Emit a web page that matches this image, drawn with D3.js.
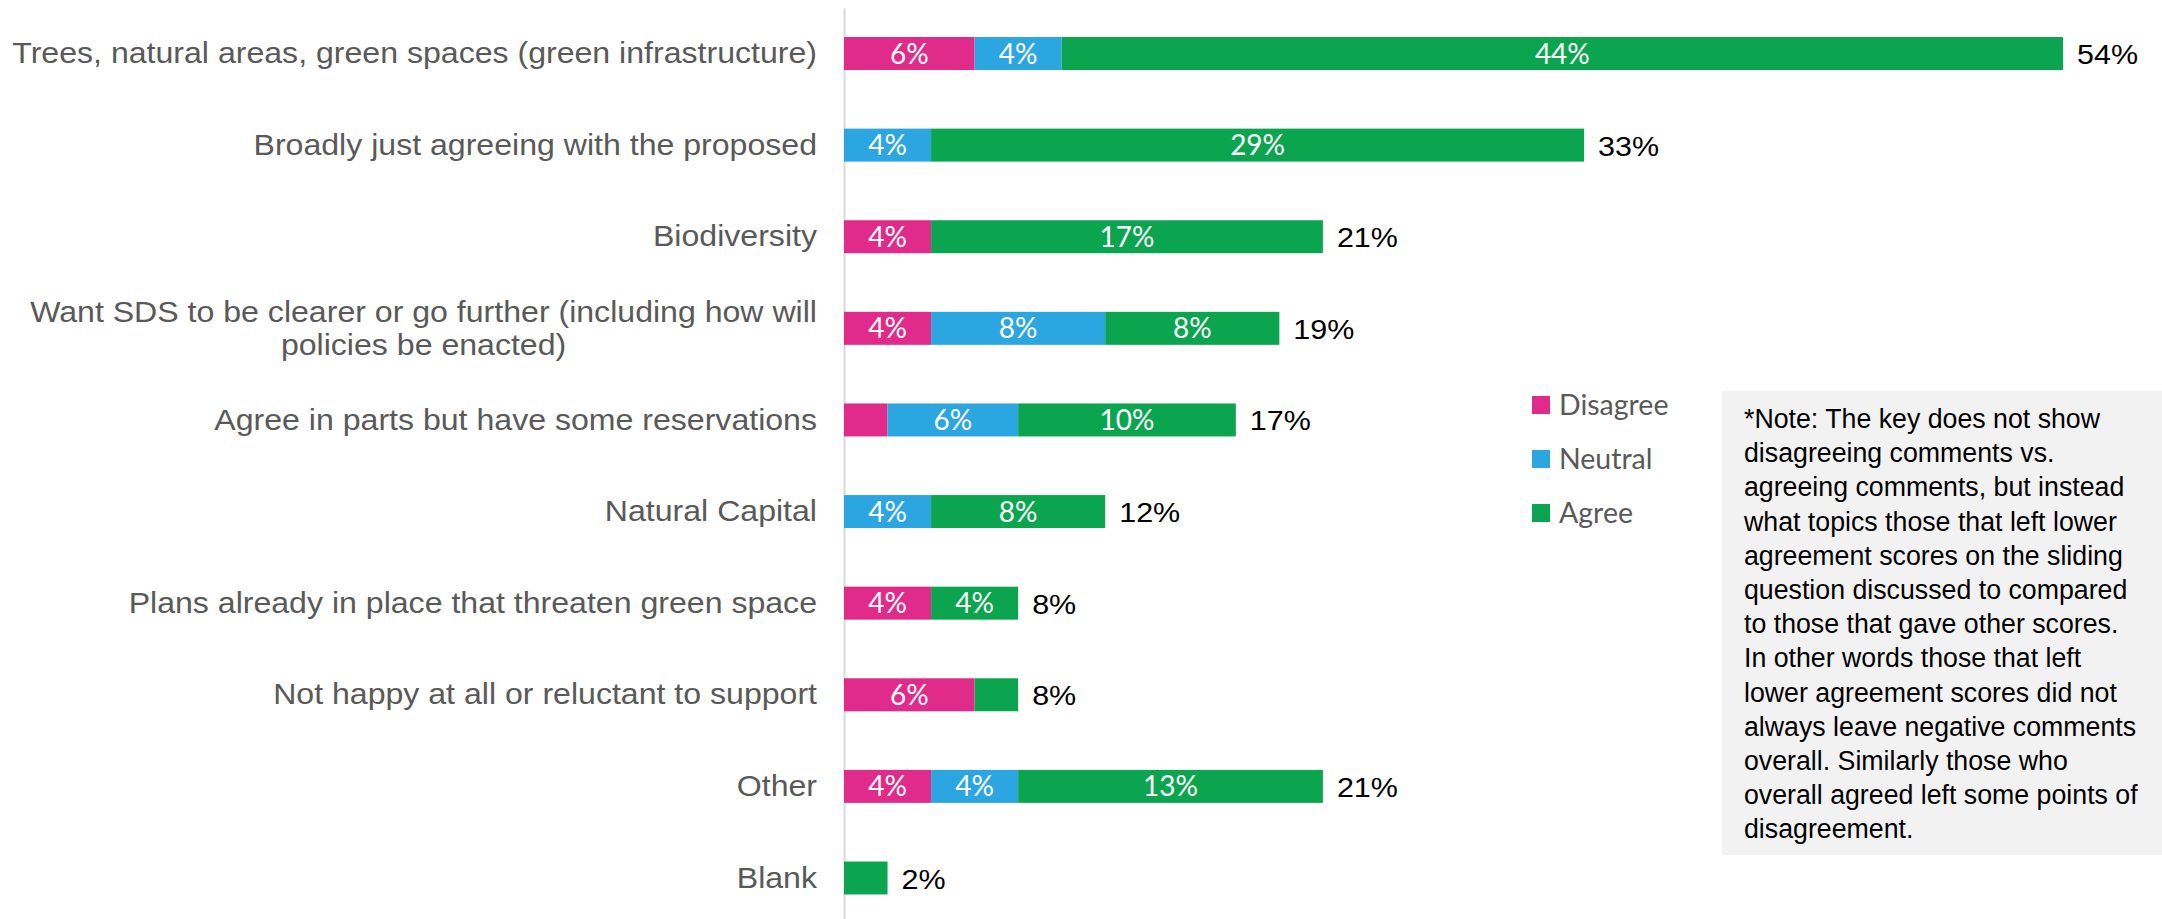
<!DOCTYPE html>
<html>
<head>
<meta charset="utf-8">
<script src="https://cdn.jsdelivr.net/npm/d3@7"></script>
<style>
  body { margin: 0; background: #fff; }
  svg { display: block; }
</style>
</head>
<body>
<div id="chart"></div>
<script>
// topics and the number of comments in each group (52 respondents)
const categories = [
  "Trees, natural areas, green spaces (green infrastructure)",
  "Broadly just agreeing with the proposed",
  "Biodiversity",
  "Want SDS to be clearer or go further (including how will policies be enacted)",
  "Agree in parts but have some reservations",
  "Natural Capital",
  "Plans already in place that threaten green space",
  "Not happy at all or reluctant to support",
  "Other",
  "Blank"
];
const disagree = [3, 0, 2, 2, 1, 0, 2, 3, 2, 0];
const neutral  = [2, 2, 0, 4, 3, 2, 0, 0, 2, 0];
const agree    = [23, 15, 9, 4, 5, 4, 2, 1, 7, 1];
const respondents = 52;

const seriesNames = ["Disagree", "Neutral", "Agree"];
const seriesColors = ["#E02B8A", "#2BA6E0", "#0BA550"];

const noteLines = [
  "*Note: The key does not show",
  "disagreeing comments vs.",
  "agreeing comments, but instead",
  "what topics those that left lower",
  "agreement scores on the sliding",
  "question discussed to compared",
  "to those that gave other scores.",
  "In other words those that left",
  "lower agreement scores did not",
  "always leave negative comments",
  "overall. Similarly those who",
  "overall agreed left some points of",
  "disagreement."
];

const width = 2162, height = 919;
const arial = "'Liberation Sans', Arial, sans-serif";
const stretch = 1.07; // chart text in the picture is a bit wide

const svg = d3.select("#chart").append("svg")
  .attr("width", width).attr("height", height);

const rows = categories.map((c, i) => ({
  cat: c, Disagree: disagree[i], Neutral: neutral[i], Agree: agree[i]
}));
const stacked = d3.stack().keys(seriesNames)(rows);

const x = d3.scaleLinear().domain([0, 28]).range([844, 2063]);
const y = d3.scaleBand().domain(categories).range([7.7, 923.8])
  .paddingInner(0.64).paddingOuter(0.32);
const color = d3.scaleOrdinal().domain(seriesNames).range(seriesColors);
const pct = v => Math.round(v / respondents * 100) + "%";

// category axis
const yAxis = svg.append("g")
  .attr("transform", `translate(${x(0)},0)`)
  .call(d3.axisLeft(y).tickSize(0).tickSizeOuter(0).tickPadding(27));
yAxis.select(".domain").attr("stroke", "#d9d9d9").attr("stroke-width", 2);
yAxis.selectAll(".tick text")
  .attr("fill", "#595959")
  .attr("x", 0)
  .attr("transform", `translate(-27,0) scale(${stretch},1)`)
  .style("font-family", arial)
  .style("font-size", "30px")
  .each(function(d) {
    const t = d3.select(this);
    const words = d.split(" ");
    t.text(null);
    let lines = [], line = [];
    const probe = t.append("tspan");
    words.forEach(w => {
      line.push(w);
      probe.text(line.join(" "));
      if (probe.node().getComputedTextLength() > 785 && line.length > 1) {
        line.pop();
        lines.push(line.join(" "));
        line = [w];
      }
    });
    lines.push(line.join(" "));
    probe.remove();
    if (lines.length === 1) {
      t.text(lines[0]);
      return;
    }
    // centred block, right edge against the padding
    const widths = lines.map(l => { t.text(l); return t.node().getComputedTextLength(); });
    t.text(null);
    const w = d3.max(widths);
    t.attr("text-anchor", "middle").attr("dy", null);
    lines.forEach((l, k) => {
      t.append("tspan")
        .attr("x", -w / 2)
        .attr("y", (k - (lines.length - 1) / 2) * 33)
        .attr("dy", "0.35em")
        .text(l);
    });
  });

// bars
const layer = svg.append("g").selectAll("g")
  .data(stacked).join("g")
  .attr("fill", d => color(d.key));

layer.selectAll("rect")
  .data(d => d)
  .join("rect")
  .attr("x", d => x(d[0]))
  .attr("y", d => y(d.data.cat))
  .attr("width", d => x(d[1]) - x(d[0]))
  .attr("height", y.bandwidth());

// segment labels (single comments are left unlabelled)
layer.selectAll("text")
  .data(d => d.filter(v => v[1] - v[0] >= 2))
  .join("text")
  .attr("x", d => (x(d[0]) + x(d[1])) / 2)
  .attr("y", d => y(d.data.cat) + y.bandwidth() / 2)
  .attr("dy", "0.36em")
  .attr("text-anchor", "middle")
  .attr("fill", "#fff")
  .style("font-family", "Lato, 'Open Sans', sans-serif")
  .style("font-size", "28px")
  .text(d => pct(d[1] - d[0]));

// totals
svg.append("g").selectAll("text")
  .data(rows).join("text")
  .attr("transform", d => `translate(${x(d.Disagree + d.Neutral + d.Agree) + 14},${y(d.cat) + y.bandwidth() / 2}) scale(${stretch},1)`)
  .attr("dy", "0.37em")
  .attr("fill", "#000")
  .style("font-family", arial)
  .style("font-size", "28.5px")
  .text(d => pct(d.Disagree + d.Neutral + d.Agree));

// legend
const legend = svg.append("g").attr("transform", "translate(1532,396)")
  .selectAll("g").data(seriesNames).join("g")
  .attr("transform", (d, i) => `translate(0,${i * 54})`);
legend.append("rect").attr("width", 18).attr("height", 18).attr("fill", d => color(d));
legend.append("text")
  .attr("x", 27).attr("y", 9).attr("dy", "0.36em")
  .attr("fill", "#595959")
  .style("font-family", "Lato, 'Open Sans', sans-serif")
  .style("font-size", "28.5px")
  .text(d => d);

// note box
svg.append("rect")
  .attr("x", 1722).attr("y", 391).attr("width", 440).attr("height", 464)
  .attr("fill", "#f2f2f2");
svg.append("g").selectAll("text")
  .data(noteLines).join("text")
  .attr("transform", (d, i) => `translate(1744,${428 + i * 34.2}) scale(0.955,1)`)
  .attr("fill", "#000")
  .style("font-family", arial)
  .style("font-size", "28px")
  .text(d => d);
</script>
</body>
</html>
